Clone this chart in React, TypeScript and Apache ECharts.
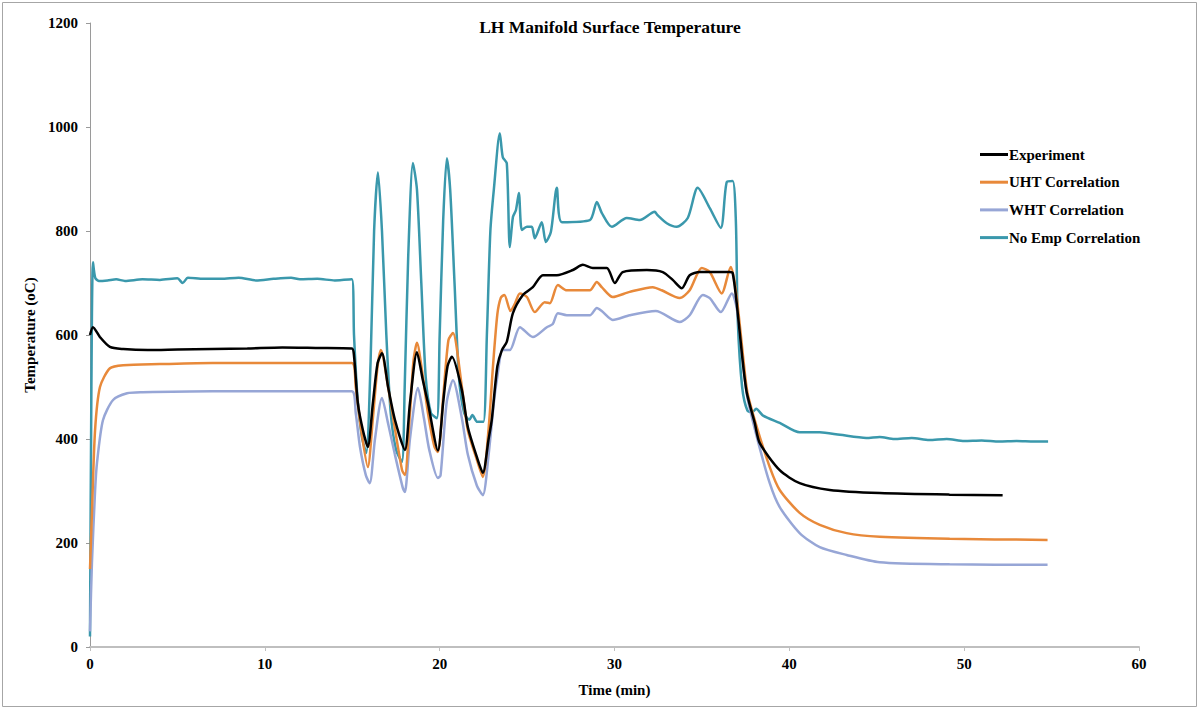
import React, { useEffect, useRef } from "react";
import * as echarts from "echarts";

const titleText = "LH Manifold Surface Temperature";
const xTitle = "Time (min)";
const yTitle = "Temperature (oC)";
const seriesNames = ["Experiment", "UHT Correlation", "WHT Correlation", "No Emp Correlation"];
const seriesColors = ["#000000", "#E8893A", "#97A6D6", "#3A98AC"];

const experimentData: number[][] = [
  [0, 600], [0.17, 615], [0.57, 596], [1.14, 577], [1.9, 573], [3.3, 571], [5, 572], [7, 573], [9, 574], [11, 576], [13, 575], [14.98, 574],
  [15.1, 560], [15.32, 469], [15.61, 417], [15.89, 385], [16.18, 469], [16.45, 546], [16.7, 565], [17.05, 500], [17.44, 437], [18.01, 379],
  [18.3, 469], [18.7, 567], [19.04, 513], [19.33, 469], [19.9, 378], [20.2, 470], [20.45, 540], [20.7, 558], [21.27, 494], [21.61, 423],
  [22.13, 365], [22.47, 335], [22.8, 400], [22.98, 437], [23.3, 540], [23.56, 571], [23.84, 587], [24.19, 642], [24.76, 677], [25.33, 692],
  [25.9, 715], [26.7, 715], [27.62, 725], [28.19, 735], [28.76, 729], [29.56, 729], [30.02, 700], [30.47, 721], [31.85, 725], [32.76, 721],
  [33.33, 706], [33.85, 690], [34.3, 715], [34.88, 721], [36.59, 721], [36.76, 719], [36.99, 661], [37.3, 560], [37.56, 490], [38.02, 431],
  [38.31, 392], [39.45, 340], [40.59, 315], [42.31, 302], [45.17, 296], [49.17, 293], [52.2, 292],
];

const uhtData: number[][] = [
  [0, 150], [0.11, 258], [0.29, 417], [0.57, 500], [1.14, 536], [1.9, 542], [4, 544], [7, 546], [10, 546], [13, 546], [14.98, 546],
  [15.2, 500], [15.5, 420], [15.89, 346], [16.18, 440], [16.45, 540], [16.64, 571], [17.05, 500], [17.44, 420], [17.85, 340], [18.01, 331],
  [18.3, 450], [18.5, 550], [18.7, 585], [19.04, 520], [19.33, 450], [19.7, 385], [19.9, 375], [20.2, 480], [20.5, 590], [20.76, 604],
  [21.27, 500], [21.61, 417], [22.13, 360], [22.47, 327], [22.8, 420], [23.05, 540], [23.3, 640], [23.5, 672], [23.7, 677], [24.05, 646],
  [24.3, 660], [24.59, 680], [24.99, 673], [25.44, 644], [26.01, 663], [26.3, 661], [26.76, 696], [27.27, 686], [28.59, 686], [28.99, 702],
  [29.27, 692], [29.9, 673], [30.87, 683], [32.19, 692], [32.7, 686], [33.73, 671], [34.3, 686], [34.99, 729], [35.45, 721], [36.13, 680],
  [36.65, 731], [36.88, 700], [37.1, 640], [37.35, 560], [37.6, 490], [38.14, 423], [38.88, 346], [39.45, 302], [40.59, 258], [41.74, 235],
  [43.28, 219], [45.17, 212], [49.17, 208], [54.77, 206],
];

const whtData: number[][] = [
  [0, 30], [0.11, 161], [0.29, 300], [0.4, 354], [0.74, 436], [1.32, 475], [2.12, 488], [3, 490], [7, 492], [10, 492], [13, 492], [14.98, 492],
  [15.2, 450], [15.44, 385], [15.78, 330], [16.0, 315], [16.3, 400], [16.7, 479], [17.05, 430], [17.44, 370], [17.9, 305], [18.01, 298],
  [18.3, 400], [18.76, 498], [19.1, 440], [19.4, 380], [19.9, 325], [20.05, 330], [20.4, 470], [20.76, 513], [21.27, 440], [21.61, 370],
  [22.13, 310], [22.47, 292], [22.8, 370], [23.1, 470], [23.27, 513], [23.61, 571], [24.01, 571], [24.59, 615], [25.33, 596], [26.13, 615],
  [26.47, 621], [26.76, 642], [27.27, 638], [28.59, 638], [28.99, 652], [29.27, 646], [29.9, 629], [30.87, 638], [32.36, 646], [33.73, 625],
  [34.3, 638], [35.05, 677], [35.45, 671], [36.08, 644], [36.71, 680], [37.0, 650], [37.3, 560], [37.6, 480], [38.14, 404], [38.88, 315],
  [39.45, 269], [40.59, 219], [41.74, 192], [43.28, 177], [45.17, 163], [49.17, 159], [54.77, 158],
];

const noEmpData: number[][] = [
  [0, 20], [0.08, 500], [0.17, 740], [0.3, 710], [0.5, 704], [1, 705], [1.5, 707], [2, 704], [3, 707], [4, 706], [5, 709], [5.3, 700],
  [5.6, 710], [6.5, 708], [7.5, 708], [8.5, 710], [9.5, 705], [10.5, 708], [11.5, 710], [12, 707], [13, 708], [14, 705], [14.98, 707],
  [15.1, 600], [15.3, 480], [15.55, 404], [15.8, 373], [16.05, 550], [16.25, 800], [16.47, 913], [16.7, 800], [16.95, 600], [17.2, 450],
  [17.5, 380], [17.84, 356], [18.0, 500], [18.2, 750], [18.47, 931], [18.7, 880], [18.95, 700], [19.2, 520], [19.5, 450], [19.84, 440],
  [20.0, 600], [20.2, 820], [20.41, 940], [20.6, 880], [20.85, 700], [21.1, 520], [21.4, 450], [21.7, 437], [21.87, 446], [22.15, 433],
  [22.5, 433], [22.7, 600], [22.9, 800], [23.1, 880], [23.44, 988], [23.61, 942], [23.84, 930], [24.01, 769], [24.19, 827], [24.36, 840],
  [24.53, 873], [24.7, 802], [24.99, 808], [25.27, 808], [25.44, 786], [25.84, 817], [26.07, 779], [26.36, 798], [26.7, 883], [26.99, 817],
  [28.59, 821], [28.99, 856], [29.27, 835], [29.85, 808], [30.7, 825], [31.45, 821], [32.3, 837], [32.45, 831], [32.99, 815], [33.56, 808],
  [34.19, 825], [34.76, 883], [35.45, 844], [36.08, 806], [36.42, 894], [36.76, 896], [36.94, 821], [37.05, 629], [37.3, 500], [37.6, 455],
  [37.9, 452], [38.1, 458], [38.5, 445], [39.45, 431], [40.59, 413], [41.74, 413], [42.9, 408], [44.4, 402], [45.17, 404], [46, 400],
  [47, 402], [48, 398], [49, 400], [50, 396], [51, 397], [52, 395], [53, 396], [54, 395], [54.8, 395],
];

const allData = [experimentData, uhtData, whtData, noEmpData];

const FONT = "'Liberation Serif', 'Times New Roman', serif";

export default function App() {
  const ref = useRef<HTMLDivElement>(null);
  useEffect(() => {
    if (!ref.current) return;
    const chart = echarts.init(ref.current, undefined, { renderer: "svg" });
    const series = seriesNames.map((name, i) => ({
      name,
      type: "line",
      data: allData[i],
      showSymbol: false,
      smooth: 0.25,
      z: i === 0 ? 10 : 5 - i,
      lineStyle: { color: seriesColors[i], width: 2.5 },
      itemStyle: { color: seriesColors[i] },
    }));
    chart.setOption({
      animation: false,
      backgroundColor: "#ffffff",
      title: {
        text: titleText,
        left: 605,
        textAlign: "center",
        top: 13,
        textStyle: { fontFamily: FONT, fontSize: 17.5, fontWeight: "bold", color: "#000" },
      },
      legend: {
        orient: "vertical",
        left: 975,
        top: 141,
        itemWidth: 28,
        itemHeight: 3,
        itemGap: 10.7,
        icon: "rect",
        data: seriesNames,
        textStyle: {
          fontFamily: FONT,
          fontSize: 15,
          fontWeight: "bold",
          color: "#000",
          lineHeight: 17,
          padding: [0, 0, 0, -4],
        },
      },
      grid: { left: 90, right: 65, top: 23, bottom: 64, containLabel: false },
      xAxis: {
        type: "value",
        min: 0,
        max: 60,
        interval: 10,
        name: xTitle,
        nameLocation: "middle",
        nameGap: 35,
        nameTextStyle: { fontFamily: FONT, fontSize: 15, fontWeight: "bold", color: "#000" },
        axisLine: { onZero: false, lineStyle: { color: "#BFBFBF", width: 2 } },
        axisTick: { show: true, length: 4, lineStyle: { color: "#BFBFBF" } },
        axisLabel: { fontFamily: FONT, fontSize: 15, fontWeight: "bold", color: "#000", margin: 9 },
        splitLine: { show: false },
      },
      yAxis: {
        type: "value",
        min: 0,
        max: 1200,
        interval: 200,
        name: yTitle,
        nameLocation: "middle",
        nameGap: 43,
        nameRotate: 90,
        nameTextStyle: { fontFamily: FONT, fontSize: 15, fontWeight: "bold", color: "#000" },
        axisLine: { show: true, lineStyle: { color: "#9A9A9A", width: 1 } },
        axisTick: { show: true, length: 4, lineStyle: { color: "#9A9A9A" } },
        axisLabel: {
          fontFamily: FONT,
          fontSize: 15,
          fontWeight: "bold",
          color: "#000",
          margin: 12,
          formatter: (v: number) => String(v),
        },
        splitLine: { show: false },
      },
      graphic: [
        {
          type: "rect",
          shape: { x: 2.5, y: 2.5, width: 1194, height: 704 },
          style: { fill: "none", stroke: "#A6A6A6", lineWidth: 1 },
          silent: true,
          z: -1,
        },
      ],
      series,
    });
    return () => chart.dispose();
  }, []);
  return (
    <div
      ref={ref}
      style={{ position: "fixed", left: 0, top: 0, width: 1204, height: 711 }}
    />
  );
}
